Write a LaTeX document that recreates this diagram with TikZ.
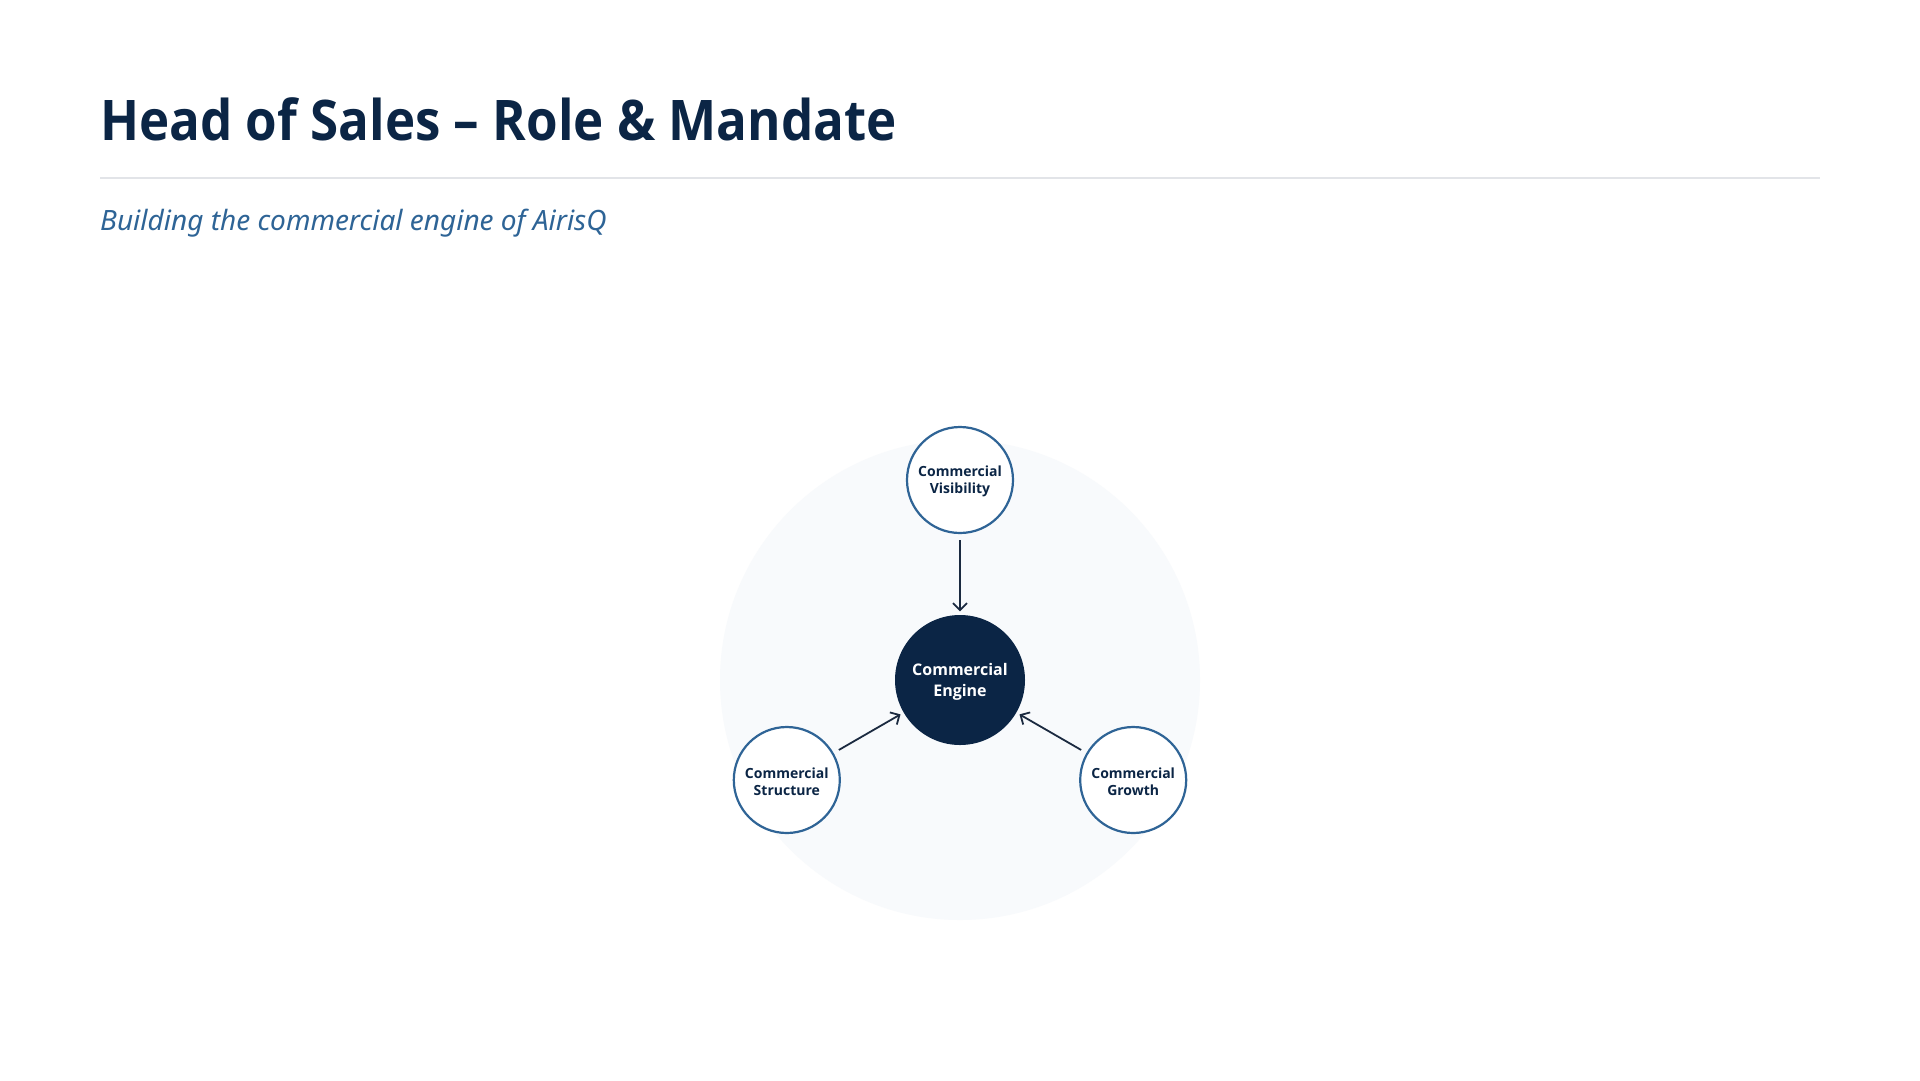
\documentclass[tikz,border=0pt]{standalone}
\usepackage{fontspec}
\setmainfont{Open Sans}
\newfontfamily\titlefont[FakeStretch=0.912]{Open Sans}
\newfontfamily\subfont{Noto Sans}
\usetikzlibrary{arrows.meta}
\definecolor{navy}{HTML}{0B2545}
\definecolor{subblue}{HTML}{2E6496}
\definecolor{ringblue}{HTML}{2F6496}
\definecolor{bgcirc}{HTML}{F8FAFC}
\definecolor{rulegray}{HTML}{E2E4E8}
\definecolor{arrowc}{HTML}{1B2A40}
\tikzset{
  satellite/.style={circle, draw=ringblue, line width=2.2pt, fill=white, minimum size=106pt, inner sep=0pt,
    label={[yshift=-1.8pt, align=center, text=navy, inner sep=0pt, font=\fontsize{14}{17}\selectfont\bfseries]center:#1}},
  engine/.style={circle, fill=navy, minimum size=130pt, inner sep=0pt,
    label={[yshift=-1.8pt, align=center, text=white, inner sep=0pt, font=\fontsize{16}{20.5}\selectfont\bfseries]center:#1}},
  feed/.style={draw=arrowc, line width=1.8pt, -{Straight Barb[length=7pt,width=14pt,line width=1.8pt]},
    shorten <=6pt, shorten >=3.5pt}
}
\begin{document}
\begin{tikzpicture}[x=1pt,y=-1pt]
\useasboundingbox (0,0) rectangle (1920,1080);
\fill[white] (0,0) rectangle (1920,1080);
\node[anchor=base west, inner sep=0pt, text=navy, font=\titlefont\fontsize{56}{62}\selectfont\bfseries] (title) at (100,140.7) {Head of Sales – Role \& Mandate};
\coordinate (ruleL) at (100,178);
\coordinate (ruleR) at (1820,178);
\draw[rulegray, line width=1.3pt] (ruleL) -- (ruleR);
\node[anchor=base west, inner sep=0pt, text=subblue, font=\subfont\fontsize{28}{31}\selectfont\itshape] (subtitle) at (100,230) {Building the commercial engine of AirisQ};
\node[circle, fill=bgcirc, minimum size=480pt, inner sep=0pt] (bg) at (960,680) {};
\node[engine={Commercial\\Engine}] (eng) at (960,680) {};
\node[satellite={Commercial\\Visibility}] (vis) at (960,480) {};
\node[satellite={Commercial\\Structure}] (str) at (786.8,780) {};
\node[satellite={Commercial\\Growth}] (gro) at (1133.2,780) {};
\draw[feed] (vis) -- (eng);
\draw[feed] (str) -- (eng);
\draw[feed] (gro) -- (eng);
\end{tikzpicture}
\end{document}
